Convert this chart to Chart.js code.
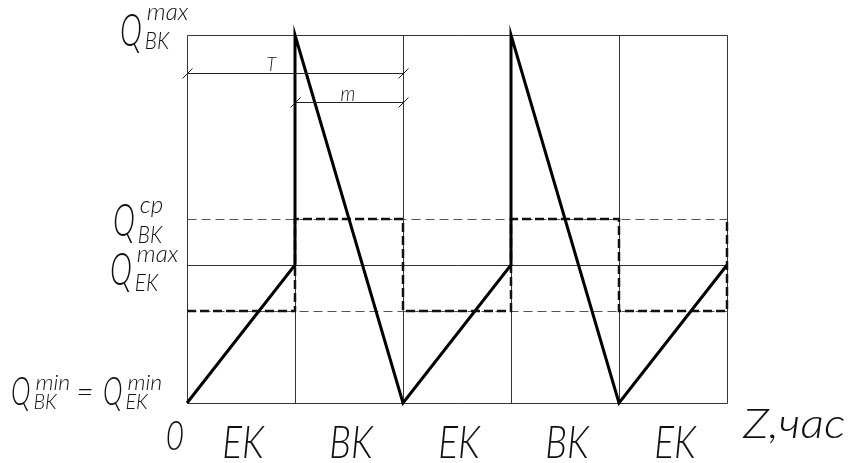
<!DOCTYPE html>
<html>
<head>
<meta charset="utf-8">
<script src="https://cdn.jsdelivr.net/npm/chart.js@4.4.1/dist/chart.umd.min.js"></script>
<style>
  html, body { margin: 0; padding: 0; background: #fff; }
</style>
</head>
<body>
<canvas id="chart" width="850" height="463"></canvas>
<script>
// --- Data ---
// Z axis: half-cycles, EK = filling, BK = emptying
const zGrid = [0, 1, 2, 3, 4, 5];
const zLabels = ['EK', 'BK', 'EK', 'BK', 'EK'];

// storage curve (saw tooth)
const sawZ = [0, 1, 1, 2, 3, 3, 4, 5];
const sawQ = [0, 3, 8, 0, 3, 8, 0, 3];

// average flow steps (thick dashed)
const stepZ = [0, 1, 1, 2, 2, 3, 3, 4, 4, 5, 5];
const stepQ = [2, 2, 4, 4, 2, 2, 4, 4, 2, 2, 4];

// Q levels
const qMin = 0, qLow = 2, qEkMax = 3, qCp = 4, qMax = 8;

// dimension lines T and m
const dimT = { from: 0, to: 2, q: 7.18, label: 'T' };
const dimM = { from: 1, to: 2, q: 6.55, label: 'm' };

const FONT = '"Lato", "Liberation Sans", sans-serif';

function seg(ctx, x1, y1, x2, y2) {
    ctx.beginPath();
    ctx.moveTo(x1, y1);
    ctx.lineTo(x2, y2);
    ctx.stroke();
}

// italic text squeezed horizontally to look like a drafting font
function txt(ctx, s, x, y, size, sx, align) {
    ctx.save();
    ctx.font = `italic 300 ${size}px ${FONT}`;
    ctx.textBaseline = 'alphabetic';
    let w = ctx.measureText(s).width * sx;
    let dx = align === 'center' ? -w / 2 : (align === 'right' ? -w : 0);
    ctx.translate(x + dx, y);
    ctx.scale(sx, 1);
    ctx.fillText(s, 0, 0);
    ctx.restore();
}

// Q with super- and subscript
function qLabel(ctx, x, yBase, qSize, sup, sub, supDy, subDy, small) {
    txt(ctx, 'Q', x, yBase, qSize, 0.66);
    ctx.font = `italic 300 ${qSize}px ${FONT}`;
    let qw = ctx.measureText('Q').width * 0.66;
    txt(ctx, sup, x + qw + 5, yBase + supDy, small, 1.05);
    txt(ctx, sub, x + qw + 3, yBase + subDy, small, 0.9);
}

const drawing = {
    id: 'drawing',
    beforeDatasetsDraw(chart) {
        const { ctx, scales: { x, y } } = chart;
        const px = v => Math.round(x.getPixelForValue(v)) + 0.5;
        const py = v => Math.round(y.getPixelForValue(v)) + 0.5;
        ctx.save();
        ctx.lineWidth = 1;
        ctx.strokeStyle = '#333';
        zGrid.forEach(z => seg(ctx, px(z), py(qMin), px(z), py(qMax)));
        [qMin, qEkMax, qMax].forEach(q => seg(ctx, px(zGrid[0]), py(q), px(zGrid[zGrid.length - 1]), py(q)));
        ctx.strokeStyle = '#555';
        ctx.setLineDash([9, 5]);
        [qLow, qCp].forEach(q => seg(ctx, px(zGrid[0]), py(q), px(zGrid[zGrid.length - 1]), py(q)));
        ctx.restore();
    },
    afterDatasetsDraw(chart) {
        const { ctx, scales: { x, y } } = chart;
        const px = v => Math.round(x.getPixelForValue(v)) + 0.5;
        const py = v => Math.round(y.getPixelForValue(v)) + 0.5;
        ctx.save();
        ctx.fillStyle = '#111';
        ctx.strokeStyle = '#222';
        ctx.lineWidth = 1;

        // dimension lines
        [dimT, dimM].forEach(d => {
            let yy = py(d.q);
            seg(ctx, px(d.from), yy, px(d.to), yy);
            [d.from, d.to].forEach(z => seg(ctx, px(z) - 5, yy + 5, px(z) + 5, yy - 5));
        });
        txt(ctx, dimT.label, x.getPixelForValue(0.78), py(dimT.q) - 3, 20, 0.9, 'center');
        txt(ctx, dimM.label, x.getPixelForValue(1.49), py(dimM.q) - 2, 21, 0.9, 'center');

        // Q labels on the left
        qLabel(ctx, 120, y.getPixelForValue(qMax) + 11, 45, 'max', 'BK', -26, 3, 23);
        qLabel(ctx, 113, y.getPixelForValue(qCp) + 17, 45, 'cp', 'BK', -23, 7, 23);
        qLabel(ctx, 110, y.getPixelForValue(qEkMax) + 20, 45, 'max', 'EK', -23, 6, 23);

        // bottom: Q_BK^min = Q_EK^min
        let yb = y.getPixelForValue(qMin) + 2;
        qLabel(ctx, 11, yb, 40, 'min', 'BK', -15, 4, 22);
        txt(ctx, '=', 85, yb - 3, 30, 1.0, 'center');
        qLabel(ctx, 103, yb, 40, 'min', 'EK', -15, 4, 22);

        // Z axis labels
        txt(ctx, '0', x.getPixelForValue(0) - 12, 450, 42, 0.75, 'center');
        for (let i = 0; i < zLabels.length; i++) {
            let c = x.getPixelForValue((zGrid[i] + zGrid[i + 1]) / 2);
            txt(ctx, zLabels[i], c + 2, 458, 45, 0.82, 'center');
        }
        txt(ctx, 'Z,час', 743, 438, 42, 1.12);
        ctx.restore();
    }
};

new Chart(document.getElementById('chart'), {
    type: 'line',
    data: {
        datasets: [
            {
                data: sawZ.map((z, i) => ({ x: z, y: sawQ[i] })),
                borderColor: '#000',
                borderWidth: 3,
                pointRadius: 0,
                tension: 0,
                clip: false
            },
            {
                data: stepZ.map((z, i) => ({ x: z, y: stepQ[i] })),
                borderColor: '#111',
                borderWidth: 2.5,
                borderDash: [9, 4],
                pointRadius: 0,
                tension: 0,
                clip: false
            }
        ]
    },
    options: {
        responsive: false,
        animation: false,
        devicePixelRatio: 1,
        layout: { padding: { left: 187, top: 35, right: 123, bottom: 60 } },
        scales: {
            x: { type: 'linear', min: 0, max: 5, display: false },
            y: { type: 'linear', min: 0, max: 8, display: false }
        },
        plugins: { legend: { display: false }, tooltip: { enabled: false } }
    },
    plugins: [drawing]
});
</script>
</body>
</html>
